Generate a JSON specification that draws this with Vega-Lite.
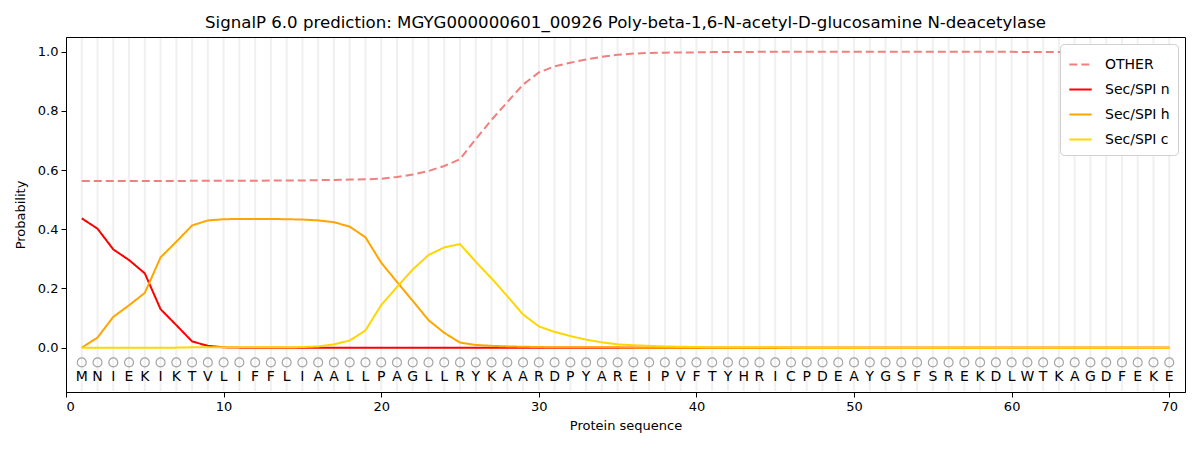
{
  "$schema": "https://vega.github.io/schema/vega-lite/v6.json",
  "width": 1119,
  "height": 355,
  "autosize": {"type": "none"},
  "padding": {"left": 66, "top": 37, "right": 15, "bottom": 58},
  "background": "white",
  "title": {
    "text": "SignalP 6.0 prediction: MGYG000000601_00926 Poly-beta-1,6-N-acetyl-D-glucosamine N-deacetylase",
    "font": "DejaVu Sans", "fontSize": 16.6, "fontWeight": "normal", "color": "black",
    "anchor": "middle", "offset": 5
  },
  "data": {
    "values": [
      {"pos": 1, "aa": "M", "OTHER": 0.563, "Sec/SPI n": 0.437, "Sec/SPI h": 0.0, "Sec/SPI c": 0.0},
      {"pos": 2, "aa": "N", "OTHER": 0.563, "Sec/SPI n": 0.402, "Sec/SPI h": 0.034, "Sec/SPI c": 0.0},
      {"pos": 3, "aa": "I", "OTHER": 0.563, "Sec/SPI n": 0.332, "Sec/SPI h": 0.104, "Sec/SPI c": 0.0},
      {"pos": 4, "aa": "E", "OTHER": 0.563, "Sec/SPI n": 0.296, "Sec/SPI h": 0.143, "Sec/SPI c": 0.0},
      {"pos": 5, "aa": "K", "OTHER": 0.563, "Sec/SPI n": 0.251, "Sec/SPI h": 0.185, "Sec/SPI c": 0.0},
      {"pos": 6, "aa": "I", "OTHER": 0.563, "Sec/SPI n": 0.13, "Sec/SPI h": 0.305, "Sec/SPI c": 0.0},
      {"pos": 7, "aa": "K", "OTHER": 0.563, "Sec/SPI n": 0.076, "Sec/SPI h": 0.358, "Sec/SPI c": 0.0},
      {"pos": 8, "aa": "T", "OTHER": 0.564, "Sec/SPI n": 0.021, "Sec/SPI h": 0.413, "Sec/SPI c": 0.001},
      {"pos": 9, "aa": "V", "OTHER": 0.564, "Sec/SPI n": 0.006, "Sec/SPI h": 0.43, "Sec/SPI c": 0.001},
      {"pos": 10, "aa": "L", "OTHER": 0.564, "Sec/SPI n": 0.001, "Sec/SPI h": 0.434, "Sec/SPI c": 0.001},
      {"pos": 11, "aa": "I", "OTHER": 0.564, "Sec/SPI n": 0.0, "Sec/SPI h": 0.435, "Sec/SPI c": 0.001},
      {"pos": 12, "aa": "F", "OTHER": 0.564, "Sec/SPI n": 0.0, "Sec/SPI h": 0.435, "Sec/SPI c": 0.001},
      {"pos": 13, "aa": "F", "OTHER": 0.565, "Sec/SPI n": 0.0, "Sec/SPI h": 0.435, "Sec/SPI c": 0.001},
      {"pos": 14, "aa": "L", "OTHER": 0.565, "Sec/SPI n": 0.0, "Sec/SPI h": 0.434, "Sec/SPI c": 0.001},
      {"pos": 15, "aa": "I", "OTHER": 0.565, "Sec/SPI n": 0.0, "Sec/SPI h": 0.433, "Sec/SPI c": 0.002},
      {"pos": 16, "aa": "A", "OTHER": 0.566, "Sec/SPI n": 0.0, "Sec/SPI h": 0.43, "Sec/SPI c": 0.004},
      {"pos": 17, "aa": "A", "OTHER": 0.567, "Sec/SPI n": 0.0, "Sec/SPI h": 0.424, "Sec/SPI c": 0.011},
      {"pos": 18, "aa": "L", "OTHER": 0.568, "Sec/SPI n": 0.0, "Sec/SPI h": 0.409, "Sec/SPI c": 0.024},
      {"pos": 19, "aa": "L", "OTHER": 0.569, "Sec/SPI n": 0.0, "Sec/SPI h": 0.373, "Sec/SPI c": 0.058},
      {"pos": 20, "aa": "P", "OTHER": 0.571, "Sec/SPI n": 0.0, "Sec/SPI h": 0.287, "Sec/SPI c": 0.144},
      {"pos": 21, "aa": "A", "OTHER": 0.577, "Sec/SPI n": 0.0, "Sec/SPI h": 0.222, "Sec/SPI c": 0.205},
      {"pos": 22, "aa": "G", "OTHER": 0.585, "Sec/SPI n": 0.0, "Sec/SPI h": 0.158, "Sec/SPI c": 0.264},
      {"pos": 23, "aa": "L", "OTHER": 0.597, "Sec/SPI n": 0.0, "Sec/SPI h": 0.093, "Sec/SPI c": 0.313},
      {"pos": 24, "aa": "L", "OTHER": 0.614, "Sec/SPI n": 0.0, "Sec/SPI h": 0.05, "Sec/SPI c": 0.339},
      {"pos": 25, "aa": "R", "OTHER": 0.637, "Sec/SPI n": 0.0, "Sec/SPI h": 0.017, "Sec/SPI c": 0.35},
      {"pos": 26, "aa": "Y", "OTHER": 0.705, "Sec/SPI n": 0.0, "Sec/SPI h": 0.009, "Sec/SPI c": 0.29},
      {"pos": 27, "aa": "K", "OTHER": 0.77, "Sec/SPI n": 0.0, "Sec/SPI h": 0.006, "Sec/SPI c": 0.234},
      {"pos": 28, "aa": "A", "OTHER": 0.83, "Sec/SPI n": 0.0, "Sec/SPI h": 0.004, "Sec/SPI c": 0.174},
      {"pos": 29, "aa": "A", "OTHER": 0.889, "Sec/SPI n": 0.0, "Sec/SPI h": 0.003, "Sec/SPI c": 0.112},
      {"pos": 30, "aa": "R", "OTHER": 0.93, "Sec/SPI n": 0.0, "Sec/SPI h": 0.002, "Sec/SPI c": 0.072},
      {"pos": 31, "aa": "D", "OTHER": 0.951, "Sec/SPI n": 0.0, "Sec/SPI h": 0.001, "Sec/SPI c": 0.053},
      {"pos": 32, "aa": "P", "OTHER": 0.963, "Sec/SPI n": 0.0, "Sec/SPI h": 0.001, "Sec/SPI c": 0.039},
      {"pos": 33, "aa": "Y", "OTHER": 0.974, "Sec/SPI n": 0.0, "Sec/SPI h": 0.001, "Sec/SPI c": 0.027},
      {"pos": 34, "aa": "A", "OTHER": 0.983, "Sec/SPI n": 0.0, "Sec/SPI h": 0.001, "Sec/SPI c": 0.018},
      {"pos": 35, "aa": "R", "OTHER": 0.99, "Sec/SPI n": 0.0, "Sec/SPI h": 0.001, "Sec/SPI c": 0.011},
      {"pos": 36, "aa": "E", "OTHER": 0.994, "Sec/SPI n": 0.0, "Sec/SPI h": 0.0, "Sec/SPI c": 0.008},
      {"pos": 37, "aa": "I", "OTHER": 0.996, "Sec/SPI n": 0.0, "Sec/SPI h": 0.0, "Sec/SPI c": 0.006},
      {"pos": 38, "aa": "P", "OTHER": 0.997, "Sec/SPI n": 0.0, "Sec/SPI h": 0.0, "Sec/SPI c": 0.004},
      {"pos": 39, "aa": "V", "OTHER": 0.998, "Sec/SPI n": 0.0, "Sec/SPI h": 0.0, "Sec/SPI c": 0.003},
      {"pos": 40, "aa": "F", "OTHER": 0.998, "Sec/SPI n": 0.0, "Sec/SPI h": 0.0, "Sec/SPI c": 0.002},
      {"pos": 41, "aa": "T", "OTHER": 0.999, "Sec/SPI n": 0.0, "Sec/SPI h": 0.0, "Sec/SPI c": 0.001},
      {"pos": 42, "aa": "Y", "OTHER": 0.999, "Sec/SPI n": 0.0, "Sec/SPI h": 0.0, "Sec/SPI c": 0.001},
      {"pos": 43, "aa": "H", "OTHER": 0.999, "Sec/SPI n": 0.0, "Sec/SPI h": 0.0, "Sec/SPI c": 0.001},
      {"pos": 44, "aa": "R", "OTHER": 1.0, "Sec/SPI n": 0.0, "Sec/SPI h": 0.0, "Sec/SPI c": 0.001},
      {"pos": 45, "aa": "I", "OTHER": 1.0, "Sec/SPI n": 0.0, "Sec/SPI h": 0.0, "Sec/SPI c": 0.001},
      {"pos": 46, "aa": "C", "OTHER": 1.0, "Sec/SPI n": 0.0, "Sec/SPI h": 0.0, "Sec/SPI c": 0.0},
      {"pos": 47, "aa": "P", "OTHER": 1.0, "Sec/SPI n": 0.0, "Sec/SPI h": 0.0, "Sec/SPI c": 0.0},
      {"pos": 48, "aa": "D", "OTHER": 1.0, "Sec/SPI n": 0.0, "Sec/SPI h": 0.0, "Sec/SPI c": 0.0},
      {"pos": 49, "aa": "E", "OTHER": 1.0, "Sec/SPI n": 0.0, "Sec/SPI h": 0.0, "Sec/SPI c": 0.0},
      {"pos": 50, "aa": "A", "OTHER": 1.0, "Sec/SPI n": 0.0, "Sec/SPI h": 0.0, "Sec/SPI c": 0.0},
      {"pos": 51, "aa": "Y", "OTHER": 1.0, "Sec/SPI n": 0.0, "Sec/SPI h": 0.0, "Sec/SPI c": 0.0},
      {"pos": 52, "aa": "G", "OTHER": 1.0, "Sec/SPI n": 0.0, "Sec/SPI h": 0.0, "Sec/SPI c": 0.0},
      {"pos": 53, "aa": "S", "OTHER": 1.0, "Sec/SPI n": 0.0, "Sec/SPI h": 0.0, "Sec/SPI c": 0.0},
      {"pos": 54, "aa": "F", "OTHER": 1.0, "Sec/SPI n": 0.0, "Sec/SPI h": 0.0, "Sec/SPI c": 0.0},
      {"pos": 55, "aa": "S", "OTHER": 1.0, "Sec/SPI n": 0.0, "Sec/SPI h": 0.0, "Sec/SPI c": 0.0},
      {"pos": 56, "aa": "R", "OTHER": 1.0, "Sec/SPI n": 0.0, "Sec/SPI h": 0.0, "Sec/SPI c": 0.0},
      {"pos": 57, "aa": "E", "OTHER": 1.0, "Sec/SPI n": 0.0, "Sec/SPI h": 0.0, "Sec/SPI c": 0.0},
      {"pos": 58, "aa": "K", "OTHER": 1.0, "Sec/SPI n": 0.0, "Sec/SPI h": 0.0, "Sec/SPI c": 0.0},
      {"pos": 59, "aa": "D", "OTHER": 1.0, "Sec/SPI n": 0.0, "Sec/SPI h": 0.0, "Sec/SPI c": 0.0},
      {"pos": 60, "aa": "L", "OTHER": 1.0, "Sec/SPI n": 0.0, "Sec/SPI h": 0.0, "Sec/SPI c": 0.0},
      {"pos": 61, "aa": "W", "OTHER": 0.999, "Sec/SPI n": 0.0, "Sec/SPI h": 0.0, "Sec/SPI c": 0.0},
      {"pos": 62, "aa": "T", "OTHER": 0.999, "Sec/SPI n": 0.0, "Sec/SPI h": 0.0, "Sec/SPI c": 0.0},
      {"pos": 63, "aa": "K", "OTHER": 0.999, "Sec/SPI n": 0.0, "Sec/SPI h": 0.0, "Sec/SPI c": 0.0},
      {"pos": 64, "aa": "A", "OTHER": 0.999, "Sec/SPI n": 0.0, "Sec/SPI h": 0.0, "Sec/SPI c": 0.0},
      {"pos": 65, "aa": "G", "OTHER": 0.999, "Sec/SPI n": 0.0, "Sec/SPI h": 0.0, "Sec/SPI c": 0.0},
      {"pos": 66, "aa": "D", "OTHER": 0.999, "Sec/SPI n": 0.0, "Sec/SPI h": 0.0, "Sec/SPI c": 0.0},
      {"pos": 67, "aa": "F", "OTHER": 0.999, "Sec/SPI n": 0.0, "Sec/SPI h": 0.0, "Sec/SPI c": 0.0},
      {"pos": 68, "aa": "E", "OTHER": 0.999, "Sec/SPI n": 0.0, "Sec/SPI h": 0.0, "Sec/SPI c": 0.0},
      {"pos": 69, "aa": "K", "OTHER": 0.999, "Sec/SPI n": 0.0, "Sec/SPI h": 0.0, "Sec/SPI c": 0.0},
      {"pos": 70, "aa": "E", "OTHER": 0.999, "Sec/SPI n": 0.0, "Sec/SPI h": 0.0, "Sec/SPI c": 0.0}
    ]
  },
  "encoding": {
    "x": {
      "field": "pos", "type": "quantitative",
      "scale": {"domain": [0, 71], "nice": false, "zero": false},
      "axis": {"values": [0, 10, 20, 30, 40, 50, 60, 70], "title": "Protein sequence", "grid": false}
    }
  },
  "layer": [
    {
      "mark": {"type": "rule", "color": "#f0f0f0", "strokeWidth": 2},
      "encoding": {
        "y": {"datum": 1.047, "type": "quantitative"},
        "y2": {"datum": -0.147}
      }
    },
    {
      "transform": [
        {"fold": ["OTHER", "Sec/SPI n", "Sec/SPI h", "Sec/SPI c"], "as": ["series", "prob"]}
      ],
      "mark": {"type": "line", "strokeWidth": 2},
      "encoding": {
        "y": {
          "field": "prob", "type": "quantitative",
          "scale": {"domain": [-0.15, 1.05], "nice": false, "zero": false},
          "axis": {"values": [0, 0.2, 0.4, 0.6, 0.8, 1.0], "format": ".1f", "title": "Probability", "grid": false}
        },
        "color": {
          "field": "series", "type": "nominal",
          "scale": {
            "domain": ["OTHER", "Sec/SPI n", "Sec/SPI h", "Sec/SPI c"],
            "range": ["#f08080", "#ff0000", "#ffa500", "#ffd700"]
          },
          "legend": {"title": null}
        },
        "strokeDash": {
          "field": "series", "type": "nominal",
          "scale": {
            "domain": ["OTHER", "Sec/SPI n", "Sec/SPI h", "Sec/SPI c"],
            "range": [[8, 4], [1, 0], [1, 0], [1, 0]]
          },
          "legend": {"title": null}
        },
        "order": {"field": "series", "sort": "ascending"}
      }
    },
    {
      "mark": {"type": "point", "shape": "circle", "filled": false, "color": "#808080", "strokeWidth": 1.2, "size": 80},
      "encoding": {"y": {"datum": -0.05}}
    },
    {
      "mark": {"type": "text", "font": "DejaVu Sans", "fontSize": 14, "color": "black", "baseline": "middle"},
      "encoding": {"y": {"datum": -0.1}, "text": {"field": "aa"}}
    }
  ],
  "config": {
    "view": {"stroke": "black", "strokeWidth": 1},
    "axis": {
      "labelFont": "DejaVu Sans", "labelFontSize": 13, "labelColor": "black",
      "titleFont": "DejaVu Sans", "titleFontSize": 13, "titleFontWeight": "normal", "titleColor": "black",
      "domainColor": "black", "tickColor": "black", "tickSize": 5, "labelPadding": 3
    },
    "axisX": {"titlePadding": 6},
    "axisY": {"titlePadding": 10},
    "legend": {
      "orient": "top-right", "offset": 7,
      "labelFont": "DejaVu Sans", "labelFontSize": 14, "labelColor": "black",
      "symbolType": "stroke", "symbolSize": 500, "symbolStrokeWidth": 2,
      "strokeColor": "#d0d0d0", "fillColor": "white", "cornerRadius": 4,
      "padding": 8, "rowPadding": 5, "labelOffset": 12
    }
  }
}
